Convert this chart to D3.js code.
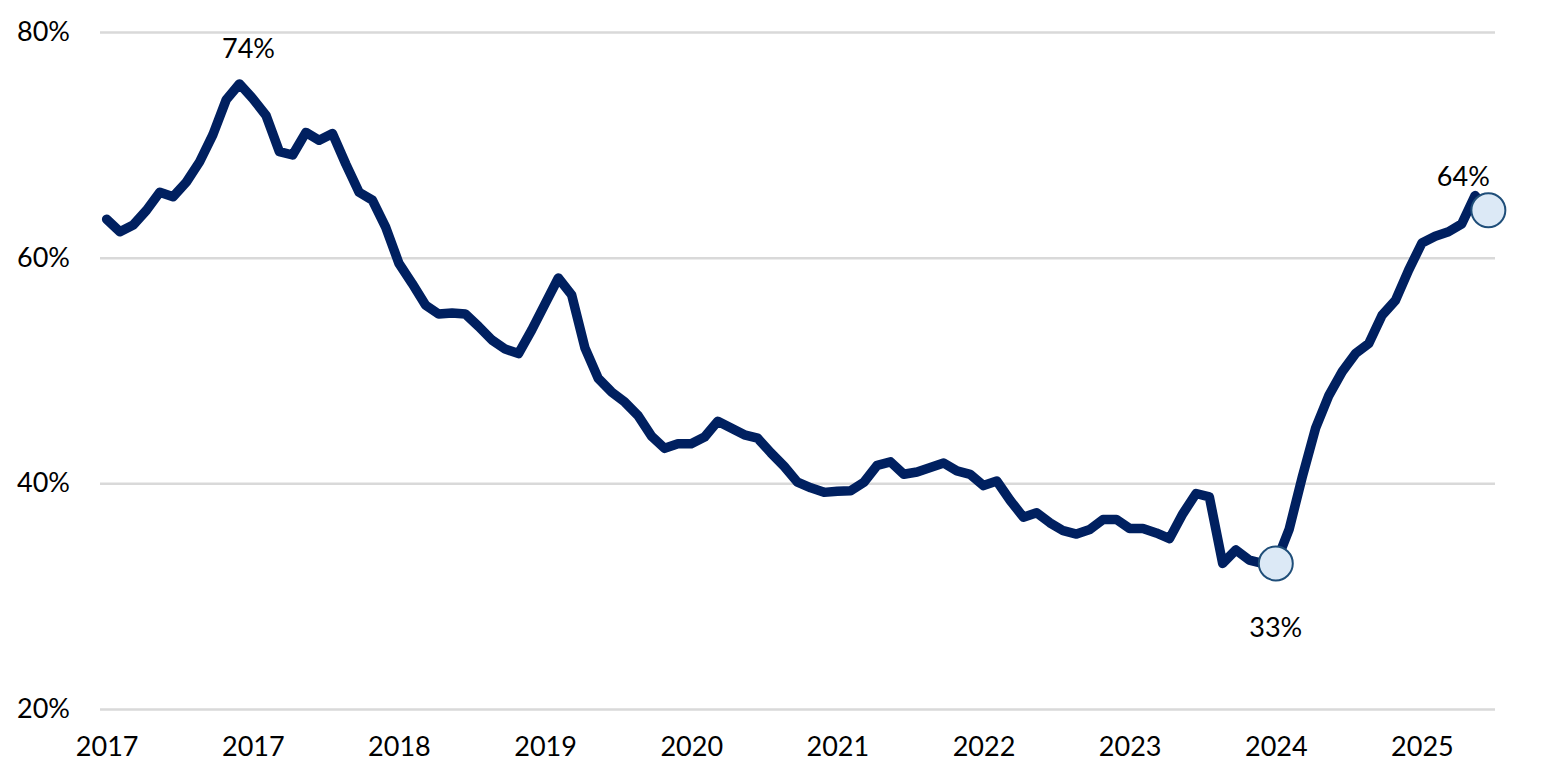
<!DOCTYPE html>
<html>
<head>
<meta charset="utf-8">
<script src="https://cdn.jsdelivr.net/npm/d3@7"></script>
<style>
  html, body { margin: 0; padding: 0; background: #fff; }
  svg { display: block; }
  text { font-family: Lato, "Open Sans", sans-serif; fill: #000; }
</style>
</head>
<body>
<svg id="chart" width="1562" height="783"></svg>
<script>
// ---- data ----
const values = [63.4, 62.3, 62.9, 64.2, 65.8, 65.4, 66.7, 68.5, 70.9, 74.0,
  75.4, 74.1, 72.6, 69.4, 69.1, 71.1, 70.4, 71.0, 68.3, 65.8,
  65.1, 62.7, 59.5, 57.7, 55.8, 55.0, 55.1, 55.0, 53.9, 52.7,
  51.9, 51.5, 53.6, 55.9, 58.2, 56.7, 52.0, 49.3, 48.1, 47.2,
  46.0, 44.2, 43.1, 43.5, 43.5, 44.1, 45.5, 44.9, 44.3, 44.0,
  42.7, 41.5, 40.1, 39.6, 39.2, 39.3, 39.35, 40.1, 41.6, 41.9,
  40.8, 41.0, 41.4, 41.8, 41.1, 40.8, 39.8, 40.2, 38.5, 37.0,
  37.4, 36.5, 35.8, 35.5, 35.9, 36.8, 36.8, 36.0, 36.0, 35.6,
  35.1, 37.3, 39.1, 38.8, 32.9, 34.1, 33.2, 32.9, 32.9, 35.9,
  40.6, 44.9, 47.8, 49.9, 51.5, 52.4, 54.9, 56.2, 58.9, 61.3,
  61.9, 62.3, 63.0, 65.5, 64.2];
const categories = values.map((v, i) => i);
const xTickIndices = [0, 11, 22, 33, 44, 55, 66, 77, 88, 99];
const xTickLabels = ["2017", "2017", "2018", "2019", "2020", "2021", "2022", "2023", "2024", "2025"];
const yTicks = [20, 40, 60, 80];
const markerIndices = [88, 104];
const annotations = [
  { index: 10, text: "74%" },
  { index: 88, text: "33%" },
  { index: 104, text: "64%" }
];

// ---- layout ----
const svg = d3.select("#chart");
const plotLeft = 100, plotRight = 1495, plotTop = 32, plotBottom = 709;
const fontSize = 27;

const x = d3.scalePoint().domain(categories).range([plotLeft, plotRight]).padding(0.5);
const y = d3.scaleLinear().domain([20, 80]).range([plotBottom, plotTop]);

// y axis + gridlines
const yAxis = d3.axisLeft(y)
  .tickValues(yTicks)
  .tickFormat(d => d + "%")
  .tickSize(-(plotRight - plotLeft))
  .tickPadding(30);
const gy = svg.append("g").attr("transform", `translate(${plotLeft},0)`).call(yAxis);
gy.select(".domain").remove();
gy.selectAll(".tick line").attr("stroke", "#d9d9d9").attr("stroke-width", 2.5);
gy.selectAll(".tick text").attr("font-size", fontSize).attr("fill", "#000")
  .style("font-family", "Lato, 'Open Sans', sans-serif");

// x axis
const xAxis = d3.axisBottom(x)
  .tickValues(xTickIndices)
  .tickFormat(d => xTickLabels[xTickIndices.indexOf(d)])
  .tickSize(0)
  .tickPadding(28);
const gx = svg.append("g").attr("transform", `translate(0,${plotBottom})`).call(xAxis);
gx.select(".domain").remove();
gx.selectAll(".tick text").attr("font-size", fontSize).attr("fill", "#000")
  .style("font-family", "Lato, 'Open Sans', sans-serif");

// line
const line = d3.line()
  .x((d, i) => x(categories[i]))
  .y(d => y(d));
svg.append("path")
  .datum(values)
  .attr("fill", "none")
  .attr("stroke", "#002060")
  .attr("stroke-width", 9.5)
  .attr("stroke-linejoin", "round")
  .attr("stroke-linecap", "round")
  .attr("d", line);

// markers
svg.selectAll("circle.marker")
  .data(markerIndices)
  .enter().append("circle")
  .attr("class", "marker")
  .attr("cx", d => x(categories[d]))
  .attr("cy", d => y(values[d]))
  .attr("r", 17)
  .attr("fill", "#dce9f6")
  .attr("stroke", "#1f4e79")
  .attr("stroke-width", 2);

// annotations
const annOffsets = { 10: [9, -36], 88: [0, 63], 104: [-25, -35] };
svg.selectAll("text.ann")
  .data(annotations)
  .enter().append("text")
  .attr("class", "ann")
  .attr("x", d => x(categories[d.index]) + annOffsets[d.index][0])
  .attr("y", d => y(values[d.index]) + annOffsets[d.index][1])
  .attr("text-anchor", "middle")
  .attr("dominant-baseline", "central")
  .attr("font-size", fontSize)
  .text(d => d.text);
</script>
</body>
</html>
